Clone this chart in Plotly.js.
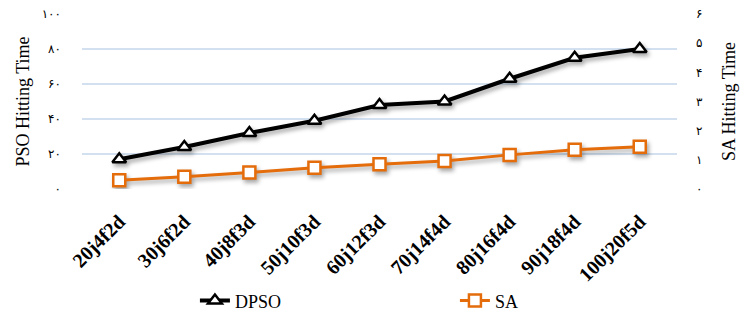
<!DOCTYPE html>
<html>
<head>
<meta charset="utf-8">
<script src="https://cdn.plot.ly/plotly-3.0.1.min.js"></script>
<style>
  html, body { margin: 0; padding: 0; background: #fff; }
  #chart { width: 744px; height: 320px; }
  /* soft drop shadow under the series lines */
  #chart .scatterlayer .trace { filter: drop-shadow(2px 3px 2px rgba(0,0,0,0.35)); }
</style>
</head>
<body>
<div id="chart"></div>
<script>
// Problem instances (jobs / facilities / dimension)
const instances = ['20j4f2d', '30j6f2d', '40j8f3d', '50j10f3d', '60j12f3d',
                   '70j14f4d', '80j16f4d', '90j18f4d', '100j20f5d'];

// Hitting times per instance
const dpsoTime = [17, 24, 32, 39, 48, 50, 63, 75, 80];
const saTime = [0.3, 0.42, 0.57, 0.73, 0.85, 0.96, 1.17, 1.35, 1.45];

// Persian-digit tick labels
const leftTickVals = [0, 20, 40, 60, 80, 100];
const leftTickText = ['۰', '۲۰', '۴۰', '۶۰', '۸۰', '۱۰۰'];
const rightTickVals = [0, 1, 2, 3, 4, 5, 6];
const rightTickText = ['۰', '۱', '۲', '۳', '۴', '۵', '۶'];

const serif = '"Liberation Serif", "Times New Roman", serif';
const orange = '#E46C0A';

const traces = [
  {
    x: instances, y: dpsoTime, name: 'DPSO', type: 'scatter', mode: 'lines+markers',
    yaxis: 'y',
    line: { color: '#000000', width: 4 },
    marker: { symbol: 'triangle-up', size: 12, color: '#ffffff',
              line: { color: '#000000', width: 2.5 } }
  },
  {
    x: instances, y: saTime, name: 'SA', type: 'scatter', mode: 'lines+markers',
    yaxis: 'y2',
    line: { color: orange, width: 3 },
    marker: { symbol: 'square', size: 12, color: '#ffffff',
              line: { color: orange, width: 2.5 } }
  }
];

const layout = {
  width: 744, height: 320,
  margin: { l: 82, r: 67, t: 14, b: 131 },
  paper_bgcolor: '#ffffff', plot_bgcolor: '#ffffff',
  font: { family: serif, color: '#000000' },
  showlegend: true,
  hovermode: false,
  xaxis: {
    type: 'category', automargin: false,
    showgrid: false, zeroline: false, showline: false,
    ticks: '', tickangle: -45, ticklabelstandoff: 16,
    tickfont: { family: serif, size: 20, weight: 'bold', color: '#000' }
  },
  yaxis: {
    range: [0, 100], automargin: false,
    tickvals: leftTickVals, ticktext: leftTickText,
    showgrid: true, gridcolor: '#D3E0F0', gridwidth: 1.5,
    zeroline: false, showline: false, ticks: '',
    ticklabelstandoff: 20,
    tickfont: { family: '"DejaVu Sans", sans-serif', size: 12, color: '#000' },
    title: { text: 'PSO Hitting Time', font: { family: serif, size: 18 }, standoff: 7 }
  },
  yaxis2: {
    range: [0, 6], overlaying: 'y', side: 'right', automargin: false,
    tickvals: rightTickVals, ticktext: rightTickText,
    showgrid: false, zeroline: false, showline: false, ticks: '',
    ticklabelstandoff: 18,
    tickfont: { family: '"DejaVu Sans", sans-serif', size: 12, color: '#000' },
    title: { text: 'SA Hitting Time', font: { family: serif, size: 18 }, standoff: 20 }
  },
  legend: {
    orientation: 'h',
    xref: 'container', yref: 'container',
    x: 0.262, xanchor: 'left', y: 0.06, yanchor: 'middle',
    entrywidth: 215, entrywidthmode: 'pixels',
    font: { family: serif, size: 18 },
    bgcolor: 'rgba(0,0,0,0)'
  }
};

Plotly.newPlot('chart', traces, layout, { displayModeBar: false, staticPlot: true });
</script>
</body>
</html>
